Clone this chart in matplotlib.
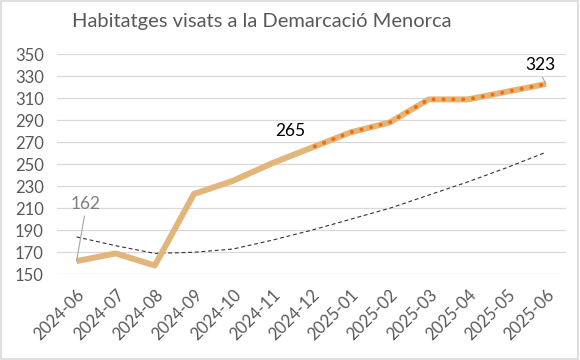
import matplotlib.pyplot as plt
from matplotlib.patches import Rectangle

plt.rcParams['font.family'] = ['Lato', 'DejaVu Sans']

months = ['2024-06', '2024-07', '2024-08', '2024-09', '2024-10', '2024-11', '2024-12',
          '2025-01', '2025-02', '2025-03', '2025-04', '2025-05', '2025-06']
visats = [162, 169, 158, 223, 235, 251, 265, 279, 288, 309, 309, 316, 323]
tendencia = [184, 176, 169, 170, 173, 181, 190, 200, 210, 222, 234, 247, 261]
yticks = list(range(150, 351, 20))

x = list(range(len(months)))

fig = plt.figure(figsize=(5.8, 3.6), dpi=100)
ax = fig.add_axes([57 / 580, 1 - 274.3 / 360, (565.6 - 57) / 580, (274.3 - 54.3) / 360])

# border of the chart area
fig.patches.append(Rectangle((0.002, 0.003), 0.995, 0.994, transform=fig.transFigure,
                             fill=False, edgecolor='#D9D9D9', linewidth=1.2))

for t in yticks:
    ax.axhline(t, color='#D9D9D9', linewidth=0.9, zorder=0)

ax.plot(x, tendencia, color='#333333', linewidth=0.8, linestyle=(0, (3.5, 2.5)), zorder=2)
ax.plot(x, visats, color='#E2B67B', linewidth=4.3, solid_capstyle='butt',
        solid_joinstyle='round', zorder=3)
# forecast part drawn with orange dots
ax.plot(x[6:], visats[6:], color='#FF6A00', linewidth=2.9, linestyle=(1.5, (0.01, 2.45)),
        dash_capstyle='round', zorder=4)

ax.set_xlim(-0.5, 12.5)
ax.set_ylim(150, 350)
ax.set_yticks(yticks)
ax.set_xticks(x)
ax.set_xticklabels(months, rotation=45, ha='right', rotation_mode='anchor')
ax.tick_params(length=0, labelsize=12, colors='#595959')
ax.tick_params(axis='x', pad=9)
ax.tick_params(axis='y', pad=9.5)
for s in ax.spines.values():
    s.set_visible(False)

# data labels
leader = dict(arrowstyle='-', color='#A6A6A6', linewidth=0.8, relpos=(0.5, 0),
              shrinkA=1, shrinkB=0)
ax.annotate('162', xy=(0, 162), xytext=(0.22, 214), ha='center', va='center',
            fontsize=12.5, color='#808080', arrowprops=leader)
ax.text(5.45, 280, '265', ha='center', va='center', fontsize=12.5, color='#000000')
ax.annotate('323', xy=(12, 323), xytext=(11.85, 340), ha='center', va='center',
            fontsize=12.5, color='#000000', arrowprops=leader)

fig.text(262 / 580, 1 - 22 / 360, 'Habitatges visats a la Demarcació Menorca', ha='center',
         va='center', fontsize=14.5, color='#595959')

fig.savefig('out.png', dpi=100, facecolor='white')
